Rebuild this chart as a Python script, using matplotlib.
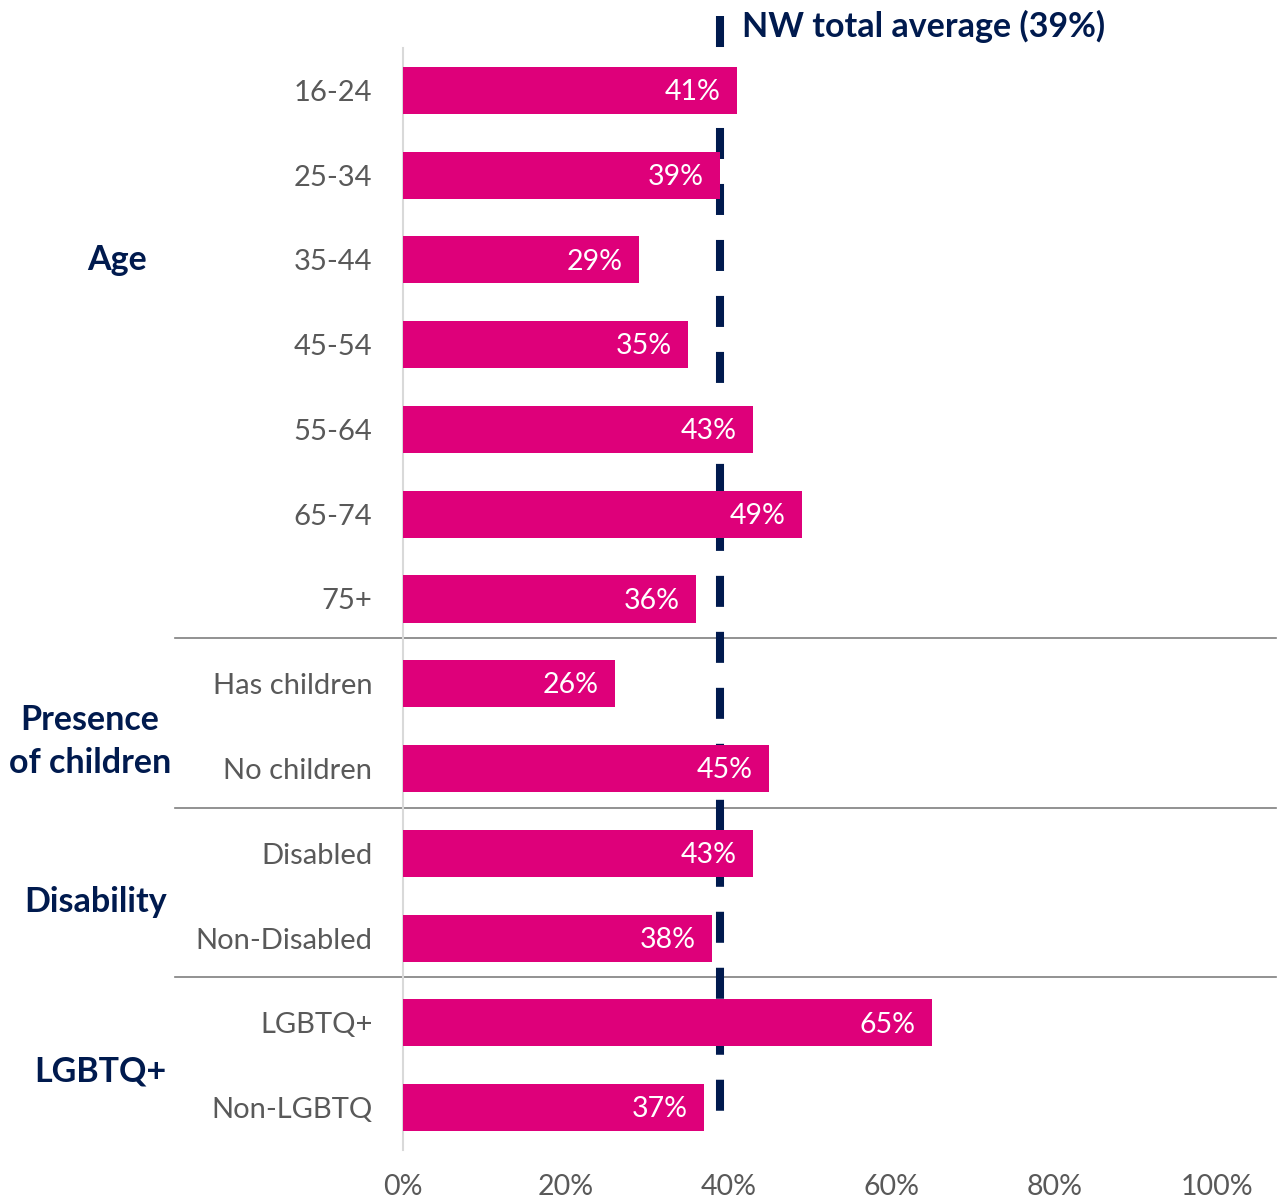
import matplotlib
matplotlib.use("Agg")
import matplotlib.pyplot as plt
from matplotlib.ticker import FuncFormatter

categories = ["16-24", "25-34", "35-44", "45-54", "55-64", "65-74", "75+",
              "Has children", "No children", "Disabled", "Non-Disabled",
              "LGBTQ+", "Non-LGBTQ"]
values = [41, 39, 29, 35, 43, 49, 36, 26, 45, 43, 38, 65, 37]
groups = ["Age", "Presence\nof children", "Disability", "LGBTQ+"]
group_sizes = [7, 2, 2, 2]
average = 39
average_label = "NW total average (39%)"
x_ticks = [0, 20, 40, 60, 80, 100]

PINK = "#DE007A"
NAVY = "#001A4E"
GREY_TEXT = "#595959"

plt.rcParams["font.family"] = ["Lato", "DejaVu Sans"]

W, H = 1281, 1204
fig = plt.figure(figsize=(W / 100, H / 100), dpi=100)
left, right, top, bottom = 403, 1217, 48, 1150
ax = fig.add_axes([left / W, 1 - bottom / H, (right - left) / W, (bottom - top) / H])

n = len(categories)
ypos = list(range(n))
ax.barh(ypos, values, height=0.555, color=PINK, zorder=3)
ax.set_ylim(n - 0.5, -0.5)
ax.set_xlim(0, 100)

# average reference line, drawn behind the bars
ax.plot([average, average], [-0.873, 12.05], color=NAVY, lw=5.8,
        dashes=(3.85, 3.1), zorder=2, clip_on=False,
        solid_capstyle="butt", dash_capstyle="butt")
ax.text(average + 2.65, -0.75, average_label, color=NAVY, fontsize=24.5,
        fontweight="bold", va="center", ha="left", clip_on=False)

for y, v in zip(ypos, values):
    ax.text(v - 2.0, y + 0.02, f"{v}%", color="white", fontsize=20.5,
            va="center", ha="right", zorder=4)

ax.set_yticks(ypos)
ax.set_yticklabels(categories, fontsize=21, color=GREY_TEXT)
ax.tick_params(axis="y", length=0, pad=22)
ax.set_xticks(x_ticks)
ax.xaxis.set_major_formatter(FuncFormatter(lambda v, p: f"{int(v)}%"))
ax.tick_params(axis="x", length=0, labelsize=20.5, labelcolor=GREY_TEXT, pad=17)

for s in ["top", "right", "bottom"]:
    ax.spines[s].set_visible(False)
ax.spines["left"].set_color("#D9D9D9")
ax.spines["left"].set_linewidth(1.5)

# group labels and separators
group_x = [117, 90, 96, 100]
group_y = [2.0, 7.68, 9.57, 11.57]
start = 0
sep_x0 = (175 - left) / (right - left)
sep_x1 = (1276 - left) / (right - left)
for i, (g, size) in enumerate(zip(groups, group_sizes)):
    ax.text((group_x[i] - left) / (right - left), group_y[i], g,
            transform=ax.get_yaxis_transform(), ha="center", va="center",
            fontsize=24.5, fontweight="bold", color=NAVY, linespacing=1.45)
    start += size
    if i < len(groups) - 1:
        ax.plot([sep_x0, sep_x1], [start - 0.54, start - 0.54],
                transform=ax.get_yaxis_transform(), color="#7F7F7F",
                lw=1.2, clip_on=False, zorder=1)

fig.savefig("out.png", dpi=100)
